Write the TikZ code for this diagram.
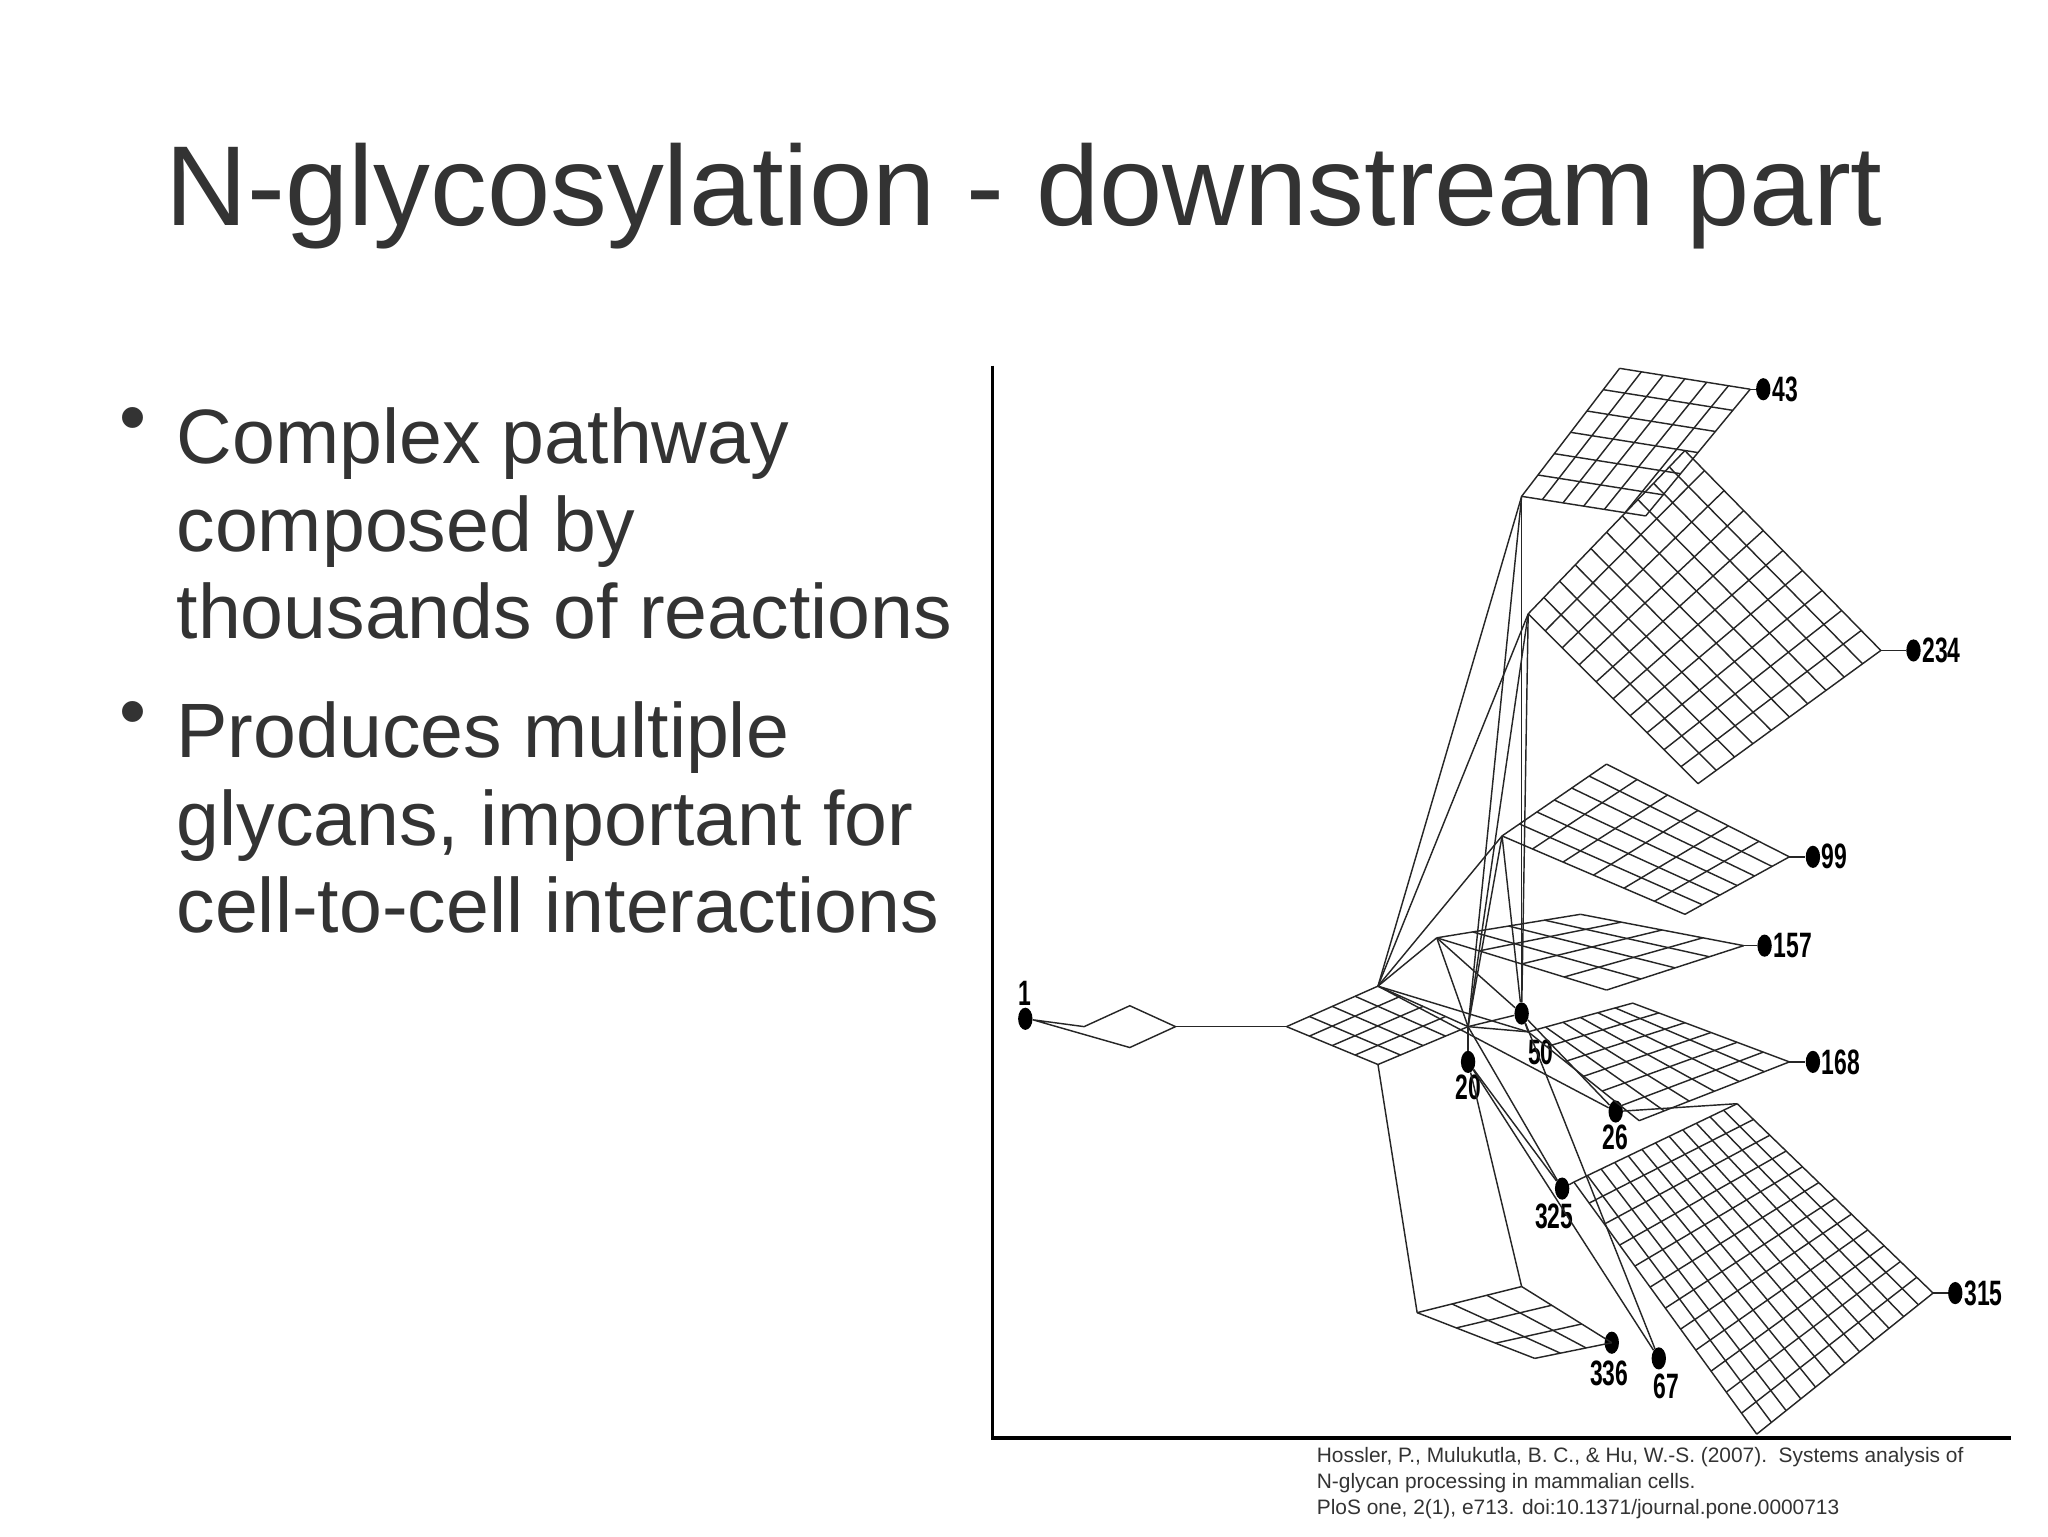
\documentclass[tikz,border=0pt]{standalone}
\usepackage{fontspec}
\setmainfont{Liberation Sans}
\usetikzlibrary{calc,positioning,shapes.geometric}
\definecolor{txt}{HTML}{333333}
\tikzset{
  dot/.style={fill=black,ellipse,inner sep=0pt,minimum width=11pt,minimum height=17pt,draw=none},
  lab/.style={inner sep=1pt,font=\bfseries\fontsize{27}{27}\selectfont\addfontfeatures{FakeStretch=0.65}},
  net/.style={line width=1.1pt,black!85},
  btxt/.style={txt,anchor=north west,align=left,inner sep=0pt,font=\fontsize{59}{67}\selectfont},
}
\newcommand{\mesh}[5]{% L T R B n
  \foreach \i in {0,...,#5}{
    \pgfmathsetmacro\t{\i/#5}
    \draw[net] ($(#1)!\t!(#2)$) -- ($(#4)!\t!(#3)$);
    \draw[net] ($(#1)!\t!(#4)$) -- ($(#2)!\t!(#3)$);
  }
}
\begin{document}
\begin{tikzpicture}[x=1pt,y=-1pt]
\useasboundingbox[fill=white] (0,0) rectangle (1568,1176);
\node[txt,font=\fontsize{87}{87}\selectfont] (title) at (784,150) {N-glycosylation - downstream part};
\node[btxt] (b1) at (135,312) {Complex pathway\\composed by\\thousands of reactions};
\node[btxt] (b2) at (135,537) {Produces multiple\\glycans, important for\\cell-to-cell interactions};
\node[btxt,anchor=north east] (bu1) at (112,312) {\textbullet};
\node[btxt,anchor=north east] (bu2) at (112,537) {\textbullet};
\node[txt,anchor=north west,align=left,font=\fontsize{16}{20}\selectfont,inner sep=0pt] (cite) at (1008,1108)
 {Hossler, P., Mulukutla, B. C., \& Hu, W.-S. (2007).\ \ Systems analysis of\\N-glycan processing in mammalian cells.\\PloS one, 2(1), e713. doi:10.1371/journal.pone.0000713};
% frame
\coordinate (f1) at (760,280); \coordinate (f2) at (760,1101); \coordinate (f3) at (1540,1101);
\draw[line width=2.5pt] (f1) -- (f2) -- (f3);
% nodes
\node[dot] (n1) at (785,780) {}; \node[lab,anchor=south] at (n1.north) {1};
\node[dot] (n20) at (1124,813) {}; \node[lab,anchor=north] at (n20.south) {20};
\node[dot] (n50) at (1165,776) {}; \node[lab,anchor=west] at ($(n50.east)+(-2,30)$) {50};
\node[dot] (n26) at (1237,851) {}; \node[lab,anchor=north] at (n26.south) {26};
\node[dot] (n325) at (1196,910) {}; \node[lab,anchor=north] at ($(n325.south)+(-6,2)$) {325};
\node[dot] (n336) at (1234,1028) {}; \node[lab,anchor=north] at ($(n336.south)+(-2,4)$) {336};
\node[dot] (n67) at (1270,1040) {}; \node[lab,anchor=north] at ($(n67.south)+(6,2)$) {67};
\node[dot] (n43) at (1350,298) {}; \node[lab,anchor=west] at (n43.east) {43};
\node[dot] (n234) at (1465,498) {}; \node[lab,anchor=west] at (n234.east) {234};
\node[dot] (n99) at (1388,656) {}; \node[lab,anchor=west] at (n99.east) {99};
\node[dot] (n157) at (1351,724) {}; \node[lab,anchor=west] at (n157.east) {157};
\node[dot] (n168) at (1388,813) {}; \node[lab,anchor=west] at (n168.east) {168};
\node[dot] (n315) at (1497,990) {}; \node[lab,anchor=west] at (n315.east) {315};
% diamond start
\coordinate (d1) at (830,786); \coordinate (d2) at (865,770); \coordinate (d3) at (900,786); \coordinate (d4) at (865,802);
\draw[net] (n1) -- (d1) -- (d2) -- (d3) -- (d4) -- cycle;
\coordinate (h0) at (985,786);
\draw[net] (d3) -- (h0);
\coordinate (hT) at (1055,755); \coordinate (hR) at (1124,786); \coordinate (hB) at (1055,815);
\mesh{h0}{hT}{hR}{hB}{4}
\draw[net] (hR) -- (n20); \draw[net] (hR) -- (n50);
% clusters
\coordinate (aL) at (1165,380); \coordinate (aT) at (1240,282); \coordinate (aR) at (1340,298); \coordinate (aB) at (1260,395);
\mesh{aL}{aT}{aR}{aB}{6} \draw[net] (aR) -- (n43);
\coordinate (bL) at (1170,470); \coordinate (bT) at (1290,345); \coordinate (bR) at (1440,498); \coordinate (bB) at (1300,600);
\mesh{bL}{bT}{bR}{bB}{10} \draw[net] (bR) -- (n234);
\coordinate (cL) at (1150,640); \coordinate (cT) at (1230,585); \coordinate (cR) at (1370,656); \coordinate (cB) at (1290,700);
\mesh{cL}{cT}{cR}{cB}{6} \draw[net] (cR) -- (n99);
\coordinate (eL) at (1100,718); \coordinate (eT) at (1210,700); \coordinate (eR) at (1335,724); \coordinate (eB) at (1230,758);
\mesh{eL}{eT}{eR}{eB}{4} \draw[net] (eR) -- (n157);
\coordinate (gL) at (1170,790); \coordinate (gT) at (1250,768); \coordinate (gR) at (1370,813); \coordinate (gB) at (1255,858);
\mesh{gL}{gT}{gR}{gB}{6} \draw[net] (gR) -- (n168);
\coordinate (kL) at (1205,905); \coordinate (kT) at (1330,845); \coordinate (kR) at (1480,990); \coordinate (kB) at (1345,1098);
\mesh{kL}{kT}{kR}{kB}{12} \draw[net] (kR) -- (n315); \draw[net] (n325) -- (kL);
\coordinate (mL) at (1085,1005); \coordinate (mT) at (1165,985); \coordinate (mR) at (1234,1028); \coordinate (mB) at (1175,1040);
\mesh{mL}{mT}{mR}{mB}{3}
% hub-to-cluster connections
\foreach \a in {hT,hR,n50}{
  \foreach \b in {aL,bL,cL,eL,gL}{ \draw[net] (\a) -- (\b); }
}
\draw[net] (hT) -- (n26); \draw[net] (n50) -- (n26); \draw[net] (hR) -- (n325); \draw[net] (n20) -- (n325);
\draw[net] (hB) -- (mL); \draw[net] (n20) -- (n67); \draw[net] (n20) -- (mT);
\draw[net] (n50) -- (n67); \draw[net] (n26) -- (kT);
\end{tikzpicture}
\end{document}
